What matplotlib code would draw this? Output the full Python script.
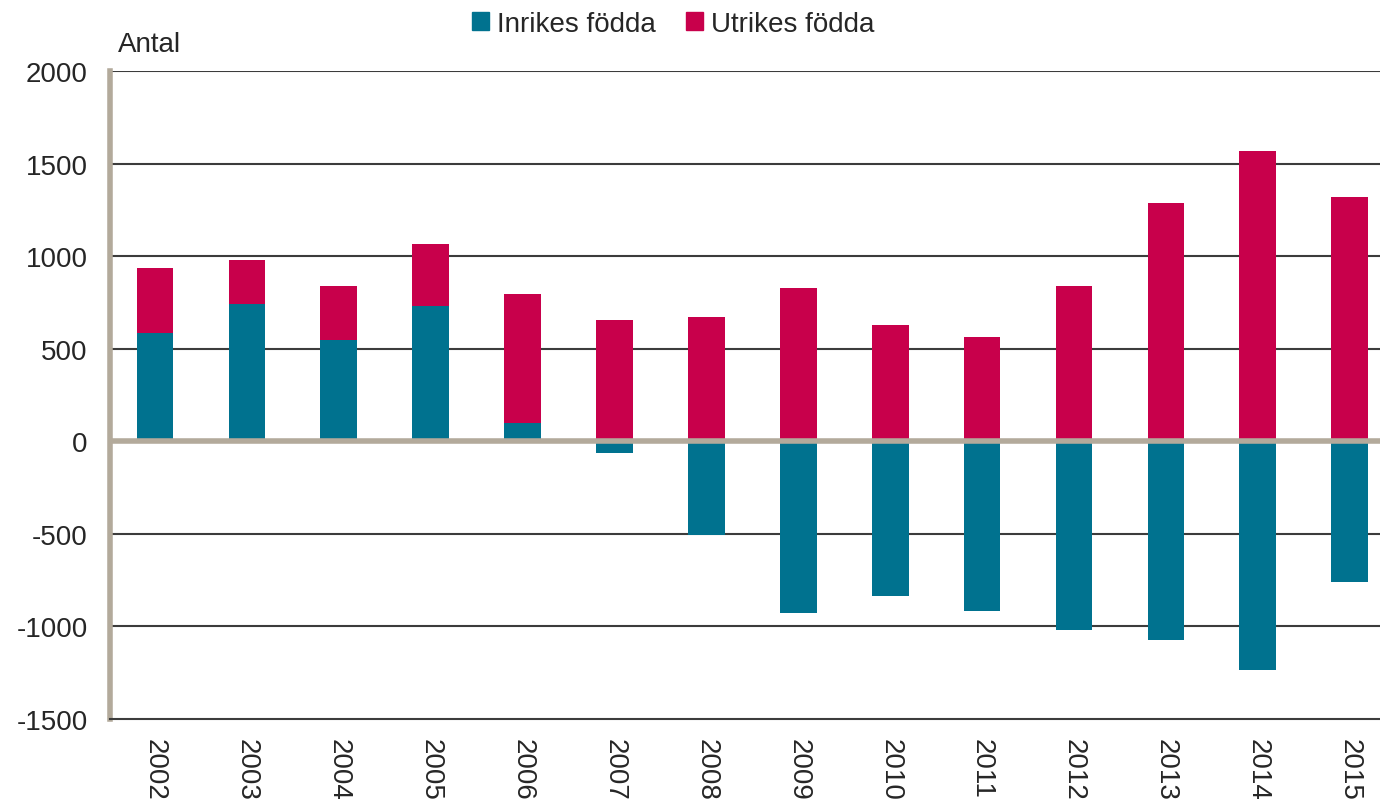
import numpy as np
import matplotlib.pyplot as plt
from matplotlib.patches import Patch

plt.rcParams['font.family'] = ['Liberation Sans', 'DejaVu Sans']

years = ['2002', '2003', '2004', '2005', '2006', '2007', '2008',
         '2009', '2010', '2011', '2012', '2013', '2014', '2015']
inrikes = [585, 740, 546, 729, 97, -65, -508, -929, -837, -918, -1021, -1075, -1237, -762]
utrikes = [350, 238, 291, 335, 697, 654, 670, 827, 627, 562, 837, 1286, 1567, 1318]

teal = '#00728F'
red = '#C8004B'
tan = '#B3AA9B'
grid_col = '#3C3C3C'

fig = plt.figure(figsize=(13.8, 8.03), dpi=100)
ax = fig.add_axes([0.0797, 0.1034, 0.9203, 0.8069])

x = np.arange(len(years))
inr = np.array(inrikes)
utr = np.array(utrikes)
# utrikes stacks on top of positive inrikes, starts from 0 otherwise
base = np.where(inr > 0, inr, 0)

ax.bar(x, inr, width=0.4, color=teal, zorder=2)
ax.bar(x, utr, width=0.4, bottom=base, color=red, zorder=2)

ax.set_ylim(-1500, 2000)
ax.set_xlim(-0.49, 13.33)
ax.set_yticks(np.arange(-1500, 2001, 500))
ax.set_yticklabels([str(v) for v in range(-1500, 2001, 500)])
for v in range(-1000, 2001, 500):
    if v != 0:
        ax.axhline(v, color=grid_col, lw=1.5, zorder=1)
ax.axhline(0, color=tan, lw=4, zorder=3)

ax.set_xticks(x)
ax.set_xticklabels(years, rotation=270, va='top', ha='center')

for s in ['top', 'right']:
    ax.spines[s].set_visible(False)
ax.spines['left'].set_color(tan)
ax.spines['left'].set_linewidth(4)
ax.spines['bottom'].set_color(grid_col)
ax.spines['bottom'].set_linewidth(1.5)
ax.tick_params(axis='both', length=0, labelsize=20, colors='#262626')
ax.tick_params(axis='y', pad=16)
ax.tick_params(axis='x', pad=14)

fig.text(0.0855, 0.944, 'Antal', fontsize=20, color='#262626', va='center', ha='left')

handles = [Patch(color=teal, label='Inrikes födda'), Patch(color=red, label='Utrikes födda')]
fig.legend(handles=handles, loc='center', bbox_to_anchor=(0.488, 0.969), ncol=2,
           frameon=False, fontsize=20, handlelength=0.6, handleheight=0.6,
           handletextpad=0.3, columnspacing=1.1, labelcolor='#262626')

fig.savefig('out.png', dpi=100)
